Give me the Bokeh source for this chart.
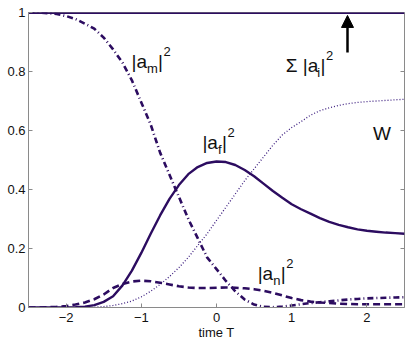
from bokeh.plotting import figure
from bokeh.models import FixedTicker, Range1d, Arrow, NormalHead
from bokeh.core.properties import value
from bokeh.embed import file_html
from bokeh.resources import INLINE

# ---- data ----
time_t = [-2.5, -2.375, -2.25, -2.125, -2.0, -1.875, -1.75, -1.625, -1.5, -1.375,
          -1.25, -1.125, -1.0, -0.875, -0.75, -0.625, -0.5, -0.375, -0.25, -0.125,
          0.0, 0.125, 0.25, 0.375, 0.5, 0.625, 0.75, 0.875, 1.0, 1.125,
          1.25, 1.375, 1.5, 1.625, 1.75, 1.875, 2.0, 2.125, 2.25, 2.375, 2.5]

a_f = [0.0, 0.0, 0.0, 0.0, 0.0, 0.001, 0.003, 0.008, 0.019, 0.038,
       0.075, 0.125, 0.185, 0.25, 0.312, 0.368, 0.415, 0.452, 0.476, 0.49,
       0.495, 0.493, 0.483, 0.466, 0.445, 0.42, 0.395, 0.372, 0.35, 0.333,
       0.318, 0.303, 0.29, 0.28, 0.272, 0.265, 0.26, 0.257, 0.254, 0.252, 0.25]

a_m = [1.0, 1.0, 0.998, 0.995, 0.988, 0.978, 0.962, 0.945, 0.915, 0.875,
       0.83, 0.77, 0.695, 0.62, 0.525, 0.45, 0.375, 0.3, 0.235, 0.17,
       0.13, 0.09, 0.055, 0.027, 0.01, 0.002, 0.001, 0.003, 0.007, 0.011,
       0.015, 0.018, 0.021, 0.024, 0.027, 0.029, 0.031, 0.032, 0.033, 0.034, 0.035]

a_n = [0.0, 0.0, 0.001, 0.002, 0.005, 0.01, 0.017, 0.028, 0.044, 0.066,
       0.08, 0.088, 0.091, 0.089, 0.084, 0.078, 0.072, 0.068, 0.066, 0.066,
       0.067, 0.068, 0.067, 0.065, 0.062, 0.057, 0.05, 0.041, 0.032, 0.025,
       0.02, 0.017, 0.015, 0.013, 0.012, 0.011, 0.011, 0.011, 0.011, 0.011, 0.011]

w_prob = [0.0, 0.0, 0.0, 0.0, 0.0, 0.0, 0.0, 0.001, 0.003, 0.007,
          0.013, 0.022, 0.036, 0.055, 0.078, 0.105, 0.135, 0.17, 0.21, 0.25,
          0.295, 0.34, 0.385, 0.43, 0.47, 0.51, 0.55, 0.585, 0.61, 0.63,
          0.652, 0.667, 0.677, 0.685, 0.691, 0.695, 0.698, 0.7, 0.702, 0.704, 0.706]

sum_all = [1.0] * len(time_t)

x_ticks = [-2, -1, 0, 1, 2]
x_tick_labels = ["\u22122", "\u22121", "0", "1", "2"]
y_ticks = [0, 0.2, 0.4, 0.6, 0.8, 1.0]
y_tick_labels = ["0", "0.2", "0.4", "0.6", "0.8", "1"]

FONT = "Liberation Sans"
COL = "#2c0c60"
AX = "#8a8a8a"
X0, X1 = -2.5, 2.5

p = figure(width=407, height=343, output_backend="svg", toolbar_location=None,
           x_range=Range1d(X0, X1), y_range=Range1d(0, 1),
           min_border_left=28, min_border_right=3, min_border_top=12, min_border_bottom=36)
p.background_fill_color = "white"
p.border_fill_color = "white"
p.outline_line_color = AX
p.outline_line_width = 1
p.grid.visible = False

for ax in (p.xaxis[0], p.yaxis[0]):
    ax.axis_line_color = AX
    ax.major_tick_line_color = AX
    ax.major_tick_in = 4
    ax.major_tick_out = 0
    ax.minor_tick_line_color = None
    ax.major_label_text_font = FONT
    ax.major_label_text_font_size = "13px"
    ax.major_label_text_color = "#111111"

p.xaxis.ticker = FixedTicker(ticks=x_ticks)
p.xaxis.major_label_overrides = dict(zip(x_ticks, x_tick_labels))
p.xaxis.major_label_standoff = 5
p.xaxis.axis_label = "time T"
p.xaxis.axis_label_text_font = FONT
p.xaxis.axis_label_text_font_size = "13px"
p.xaxis.axis_label_text_font_style = "normal"
p.xaxis.axis_label_text_color = "#111111"
p.xaxis.axis_label_standoff = 0

p.yaxis.ticker = FixedTicker(ticks=y_ticks)
p.yaxis.major_label_overrides = dict(zip(y_ticks, y_tick_labels))
p.yaxis.major_label_standoff = 3

# inward ticks on the right edge of the box
tick_len = (X1 - X0) * 4 / 376
p.segment(x0=[X1] * len(y_ticks), y0=y_ticks, x1=[X1 - tick_len] * len(y_ticks), y1=y_ticks,
          line_color=AX, line_width=1)

# ---- curves ----
p.line(time_t, w_prob, line_color="#3e2080", line_width=1.3, line_dash="1 2")
p.line(time_t, a_n, line_color=COL, line_width=2.6, line_dash="7 4")
p.line(time_t, a_m, line_color=COL, line_width=2.6, line_dash="6 3 1 3")
p.line(time_t, a_f, line_color=COL, line_width=2.4)
p.line(time_t, sum_all, line_color=COL, line_width=3)

# ---- labels |a_x|^2 ----
BIG = "19px"
SMALL = "13px"

def piece(x, y, txt, size, dx, dy):
    p.text(x=[x], y=[y], text=[txt], x_offset=dx, y_offset=dy,
           text_font=value(FONT), text_font_size=size, text_color="#111111",
           text_align="left", text_baseline="alphabetic")

def amp_label(x, y, sub, sub_w, prefix="|a", prefix_w=15.5):
    piece(x, y, prefix, BIG, 0, 0)
    piece(x, y, sub, SMALL, prefix_w, 7)
    piece(x, y, "|", BIG, prefix_w + sub_w, 0)
    piece(x, y, "2", SMALL, prefix_w + sub_w + 5.5, -10)

amp_label(-1.13, 0.834, "m", 11.0)
amp_label(-0.187, 0.56, "f", 4.0)
amp_label(0.547, 0.114, "n", 7.5)
amp_label(0.92, 0.82, "i", 3.2, prefix="\u03a3 |a", prefix_w=31.5)
piece(2.08, 0.59, "W", BIG, 0, 0)

p.add_layout(Arrow(end=NormalHead(size=12, fill_color="black", line_color="black"),
                   x_start=1.742, y_start=0.864, x_end=1.742, y_end=0.99,
                   line_color="black", line_width=2.5))

open("out.html", "w").write(file_html(p, INLINE))
